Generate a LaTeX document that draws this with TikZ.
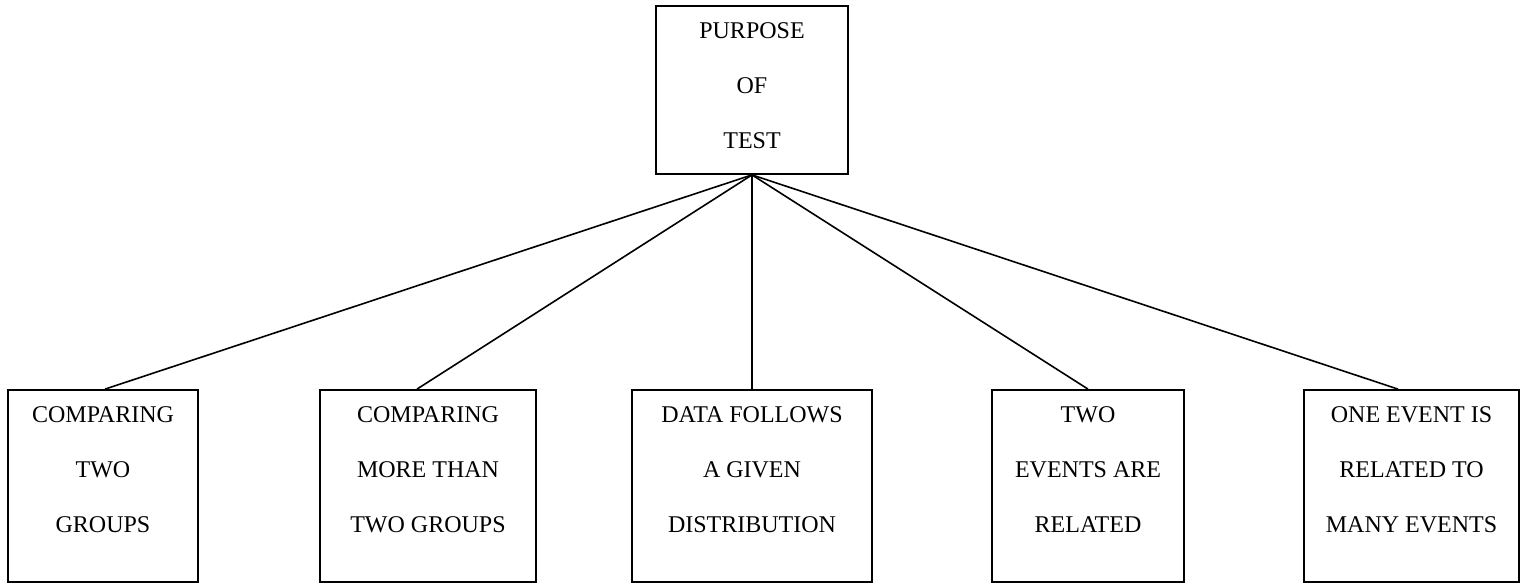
\documentclass[tikz,border=0pt]{standalone}
\usepackage{fontspec}
\setmainfont{Liberation Serif}
\tikzset{
    testbox/.style={draw, line width=0.9pt, inner sep=0pt},
    boxtext/.style={anchor=north, inner sep=0pt, align=center,
        font=\fontsize{12}{27.5}\selectfont},
}
\begin{document}
\begin{tikzpicture}[x=1pt, y=1pt]
        \useasboundingbox (0,0) rectangle (760,-292);
        % the root box
        \node[testbox, minimum width=96pt, minimum height=84pt] (top) at (376,-45) {};
        \node[boxtext] (toptext) at ([yshift=-8.5pt]top.north) {PURPOSE\\OF\\TEST};
        % the five boxes below
        \node[testbox, minimum width=95pt, minimum height=96pt] (b1) at (51.5,-243) {};
        \node[testbox, minimum width=108pt, minimum height=96pt] (b2) at (214,-243) {};
        \node[testbox, minimum width=120pt, minimum height=96pt] (b3) at (376,-243) {};
        \node[testbox, minimum width=96pt, minimum height=96pt] (b4) at (544,-243) {};
        \node[testbox, minimum width=107.5pt, minimum height=96pt] (b5) at (705.75,-243) {};
        \node[boxtext] (b1text) at ([yshift=-8.5pt]b1.north) {COMPARING\\TWO\\GROUPS};
        \node[boxtext] (b2text) at ([yshift=-8.5pt]b2.north) {COMPARING\\MORE THAN\\TWO GROUPS};
        \node[boxtext] (b3text) at ([yshift=-8.5pt]b3.north) {DATA FOLLOWS\\A GIVEN\\DISTRIBUTION};
        \node[boxtext] (b4text) at ([yshift=-8.5pt]b4.north) {TWO\\EVENTS ARE\\RELATED};
        \node[boxtext] (b5text) at ([yshift=-8.5pt]b5.north) {ONE EVENT IS\\RELATED TO\\MANY EVENTS};
        % connectors
        \foreach \n/\dx in {b1/1, b2/-5.5, b3/0, b4/0, b5/-6.75}
        {
            \draw[line width=0.8pt] (top.south) -- ([xshift=\dx pt]\n.north);
        }
    \end{tikzpicture}
\end{document}
